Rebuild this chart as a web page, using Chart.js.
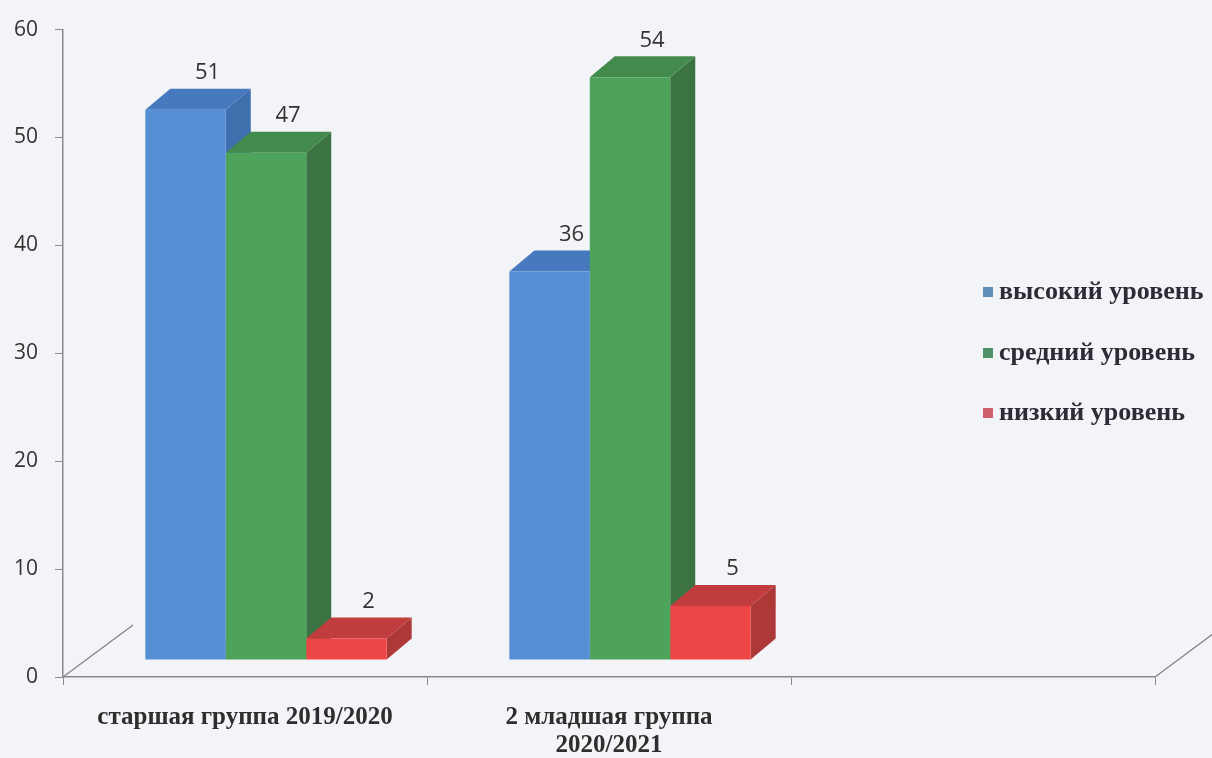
<!DOCTYPE html>
<html>
<head>
<meta charset="utf-8">
<script src="https://cdn.jsdelivr.net/npm/chart.js@4"></script>
<style>
  body { margin: 0; background: #f3f4f7; }
  canvas { display: block; }
</style>
</head>
<body>
<canvas id="levels" width="1212" height="758"></canvas>
<script>
const categories = ['старшая группа 2019/2020', ['2 младшая группа', '2020/2021'], ''];
const seriesNames = ['высокий уровень', 'средний уровень', 'низкий уровень'];
const highLevel = [51, 36, null];
const midLevel = [47, 54, null];
const lowLevel = [2, 5, null];
const yMin = 0, yMax = 60, yStep = 10;

// depth of the fake 3d box and shift of the bars from the axis plane
const depth = { dx: 25, dy: -21 };
const shift = { dx: 21, dy: -17 };

const bars3d = {
  id: 'bars3d',
  beforeDraw(chart) {
    const c = chart.ctx;
    c.save();
    c.fillStyle = '#f3f4f7';
    c.fillRect(0, 0, chart.width, chart.height);
    // floor edges
    const a = chart.chartArea;
    c.strokeStyle = '#8a8a8a';
    c.lineWidth = 1.5;
    c.beginPath();
    c.moveTo(a.left, a.bottom); c.lineTo(a.left + 70, a.bottom - 52);
    c.moveTo(a.right, a.bottom); c.lineTo(a.right + 70, a.bottom - 52);
    c.stroke();
    c.restore();
  },
  beforeDatasetsDraw(chart) {
    const c = chart.ctx;
    c.save();
    c.translate(shift.dx, shift.dy);
    // side and top faces, left to right, before any front face
    const faces = [];
    chart.data.datasets.forEach((ds, di) => {
      chart.getDatasetMeta(di).data.forEach((el, i) => {
        if (ds.data[i] == null) return;
        faces.push({ el, ds });
      });
    });
    faces.sort((p, q) => p.el.x - q.el.x);
    faces.forEach(({ el, ds }) => {
      const l = el.x - el.width / 2, r = el.x + el.width / 2;
      const t = el.y, b = el.base;
      c.fillStyle = ds.sideColor;
      c.beginPath();
      c.moveTo(r, t); c.lineTo(r + depth.dx, t + depth.dy);
      c.lineTo(r + depth.dx, b + depth.dy); c.lineTo(r, b);
      c.closePath(); c.fill();
      c.fillStyle = ds.topColor;
      c.beginPath();
      c.moveTo(l, t); c.lineTo(l + depth.dx, t + depth.dy);
      c.lineTo(r + depth.dx, t + depth.dy); c.lineTo(r, t);
      c.closePath(); c.fill();
    });
  },
  afterDatasetsDraw(chart) {
    const c = chart.ctx;
    c.font = '22px "Open Sans"';
    c.fillStyle = '#333';
    c.textAlign = 'center';
    c.textBaseline = 'middle';
    chart.data.datasets.forEach((ds, di) => {
      chart.getDatasetMeta(di).data.forEach((el, i) => {
        if (ds.data[i] == null) return;
        c.fillText(ds.data[i], el.x + 22, el.y + depth.dy - 16);
      });
    });
    c.restore();
  },
  afterDraw(chart) {
    const c = chart.ctx;
    c.save();
    c.font = 'bold 26px "Liberation Serif"';
    c.textBaseline = 'middle';
    c.textAlign = 'left';
    const rows = [292, 353, 413];
    chart.data.datasets.forEach((ds, i) => {
      c.fillStyle = ds.legendColor;
      c.fillRect(983, rows[i] - 5, 10, 10);
      c.fillStyle = '#2c2c36';
      c.fillText(ds.label, 999, rows[i]);
    });
    c.restore();
  }
};

new Chart(document.getElementById('levels'), {
  type: 'bar',
  data: {
    labels: categories,
    datasets: [
      {
        label: seriesNames[0],
        data: highLevel,
        backgroundColor: '#568fd4',
        topColor: '#4679bd',
        sideColor: '#3f6fad',
        legendColor: '#5f8fba'
      },
      {
        label: seriesNames[1],
        data: midLevel,
        backgroundColor: '#4ea35a',
        topColor: '#438b4d',
        sideColor: '#3b7442',
        legendColor: '#4f9068'
      },
      {
        label: seriesNames[2],
        data: lowLevel,
        backgroundColor: '#ee4646',
        topColor: '#c13c3c',
        sideColor: '#ad3838',
        legendColor: '#d0606a'
      }
    ]
  },
  options: {
    responsive: false,
    animation: false,
    devicePixelRatio: 1,
    datasets: { bar: { barPercentage: 1, categoryPercentage: 0.663, clip: false } },
    layout: { padding: { top: 25, right: 57, left: 0, bottom: 0 } },
    plugins: { legend: { display: false }, tooltip: { enabled: false } },
    scales: {
      x: {
        afterFit(scale) { scale.height = 81; },
        grid: { drawOnChartArea: false, tickLength: 8, color: '#8a8a8a', offset: true },
        border: { color: '#8a8a8a', width: 1.5 },
        ticks: {
          autoSkip: false,
          maxRotation: 0,
          padding: 19,
          color: '#2e2e2e',
          font: { family: '"Liberation Serif"', weight: 'bold', size: 25, lineHeight: 1.1 }
        }
      },
      y: {
        min: yMin,
        max: yMax,
        afterFit(scale) { scale.width = 63; },
        grid: { drawOnChartArea: false, tickLength: 8, color: '#8a8a8a' },
        border: { color: '#8a8a8a', width: 1.5 },
        ticks: {
          stepSize: yStep,
          padding: 17,
          color: '#333',
          font: { family: '"Open Sans"', size: 21 }
        }
      }
    }
  },
  plugins: [bars3d]
});
</script>
</body>
</html>
